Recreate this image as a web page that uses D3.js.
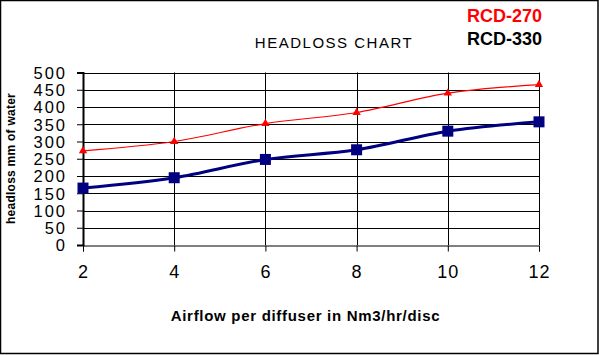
<!DOCTYPE html>
<html><head><meta charset="utf-8">
<script src="https://cdn.jsdelivr.net/npm/d3@7"></script>
<style>html,body{margin:0;padding:0;background:#fff;}svg{display:block;font-family:"Liberation Sans",Arial,sans-serif;}</style>
</head><body>
<script>
const airflow = [2, 4, 6, 8, 10, 12];
const rcd270 = [273, 300, 352, 384, 440, 465];
const rcd330 = [165, 195, 248, 276, 330, 357];
const yTicks = [0, 50, 100, 150, 200, 250, 300, 350, 400, 450, 500];
const xTicks = [2, 4, 6, 8, 10, 12];
const seriesNames = ["RCD-270", "RCD-330"];

const W = 599, H = 355;
const svg = d3.select("body").append("svg").attr("width", W).attr("height", H);
svg.append("rect").attr("x", 0.5).attr("y", 0.5).attr("width", 597.5).attr("height", 353)
  .attr("fill", "#fff").attr("stroke", "#000").attr("stroke-width", 1.5);

const x = d3.scaleLinear().domain([2, 12]).range([83, 539]);
const y = d3.scaleLinear().domain([0, 500]).range([245, 72.5]);

// grid
const g = svg.append("g");
g.selectAll("line.hg").data(yTicks.slice(1)).join("line")
  .attr("x1", x(2)).attr("x2", x(12)).attr("y1", d => Math.round(y(d)) + 0.5).attr("y2", d => Math.round(y(d)) + 0.5)
  .attr("stroke", "#000").attr("stroke-width", 1);
g.selectAll("line.vg").data(xTicks.slice(1)).join("line")
  .attr("x1", d => Math.round(x(d)) + 0.5).attr("x2", d => Math.round(x(d)) + 0.5)
  .attr("y1", y(500)).attr("y2", y(0))
  .attr("stroke", "#000").attr("stroke-width", 1);

// axes
const yAxis = d3.axisLeft(y).tickValues(yTicks).tickSize(6).tickPadding(10);
const ya = svg.append("g").attr("transform", `translate(${x(2)},0)`).call(yAxis);
ya.select(".domain").attr("stroke-width", 2);
ya.selectAll(".tick line").attr("stroke-width", 1);
ya.selectAll("text").attr("font-size", 16.5).attr("letter-spacing", 2).attr("fill", "#000")
  .attr("font-family", "Liberation Sans, Arial, sans-serif").attr("dy", "0.36em");

const xAxis = d3.axisBottom(x).tickValues(xTicks).tickSize(6).tickPadding(14);
const xa = svg.append("g").attr("transform", `translate(0,${Math.round(y(0)) + 0.5})`).call(xAxis);
xa.selectAll("text").attr("font-size", 18).attr("letter-spacing", 1).attr("fill", "#000")
  .attr("font-family", "Liberation Sans, Arial, sans-serif");

// lines
const line = d3.line().x((d, i) => x(airflow[i])).y(d => y(d)).curve(d3.curveCardinal);
svg.append("path").datum(rcd330).attr("d", line).attr("fill", "none").attr("stroke", "#000080").attr("stroke-width", 3);
svg.append("path").datum(rcd270).attr("d", line).attr("fill", "none").attr("stroke", "#ff0000").attr("stroke-width", 1.2);

svg.selectAll("rect.sq").data(rcd330).join("rect")
  .attr("x", (d, i) => x(airflow[i]) - 5.5).attr("y", d => y(d) - 5.5)
  .attr("width", 11).attr("height", 11).attr("fill", "#000080");
const tri = d3.symbol().type(d3.symbolTriangle).size(30);
svg.selectAll("path.tri").data(rcd270).join("path")
  .attr("d", tri).attr("transform", (d, i) => `translate(${x(airflow[i])},${y(d)})`).attr("fill", "#ff0000");

// texts
svg.append("text").attr("x", 334).attr("y", 48).attr("text-anchor", "middle")
  .attr("font-size", 15).attr("letter-spacing", 1.5).text("HEADLOSS CHART");
svg.append("text").attr("x", 467).attr("y", 22).attr("font-size", 18).attr("font-weight", "bold")
  .attr("fill", "#ff0000").text(seriesNames[0]);
svg.append("text").attr("x", 467).attr("y", 45).attr("font-size", 18).attr("font-weight", "bold")
  .attr("fill", "#000").text(seriesNames[1]);
svg.append("text").attr("x", 305.5).attr("y", 321).attr("text-anchor", "middle")
  .attr("font-size", 15).attr("font-weight", "bold").attr("letter-spacing", 0.7)
  .text("Airflow per diffuser in Nm3/hr/disc");
svg.append("text").attr("transform", "translate(15,158.5) rotate(-90)").attr("text-anchor", "middle")
  .attr("font-size", 12).attr("font-weight", "bold").attr("letter-spacing", 0.25)
  .text("headloss mm of water");
</script>
</body></html>
